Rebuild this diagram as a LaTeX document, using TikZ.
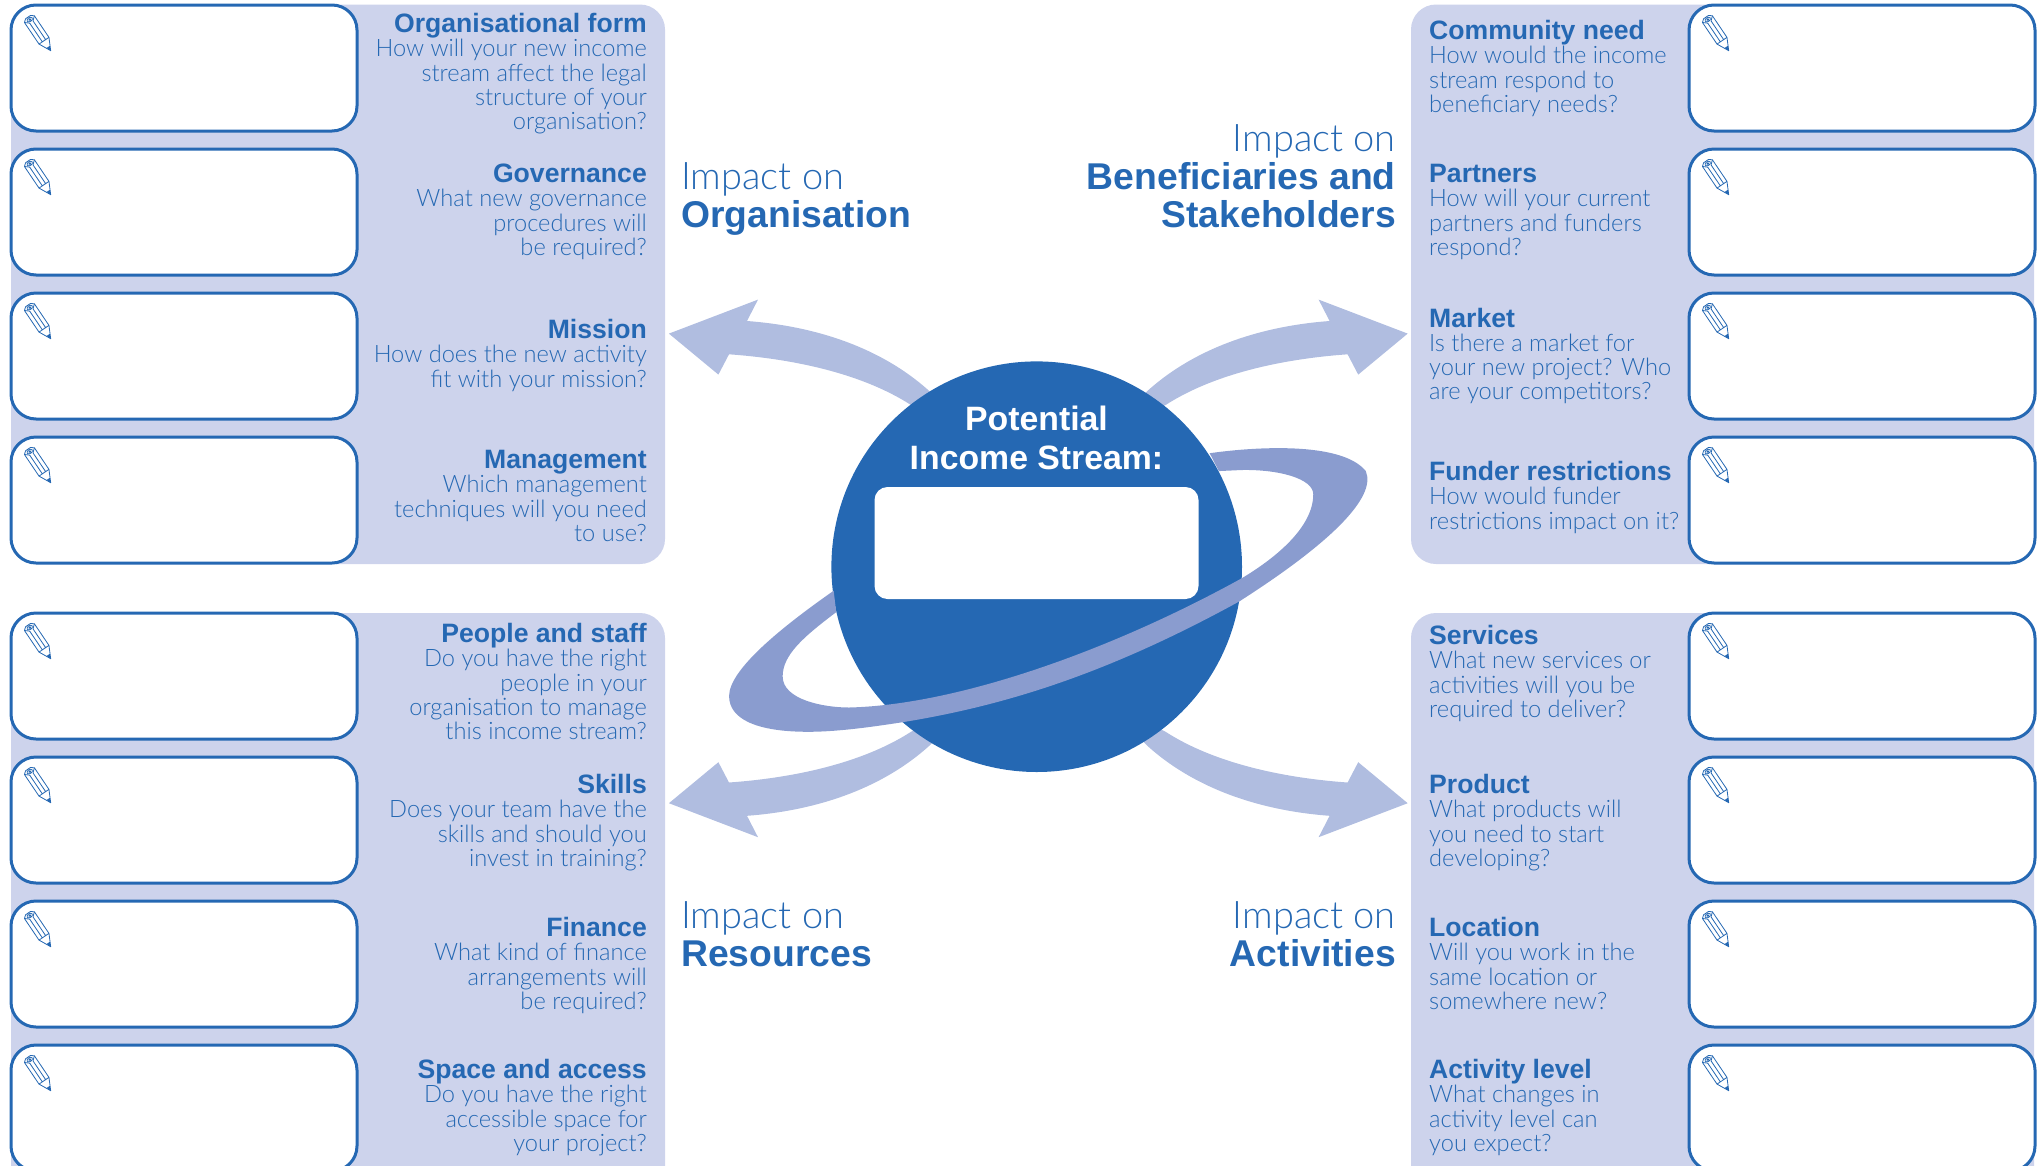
\documentclass[tikz,border=0pt]{standalone}
\usepackage{fontspec}
\setmainfont{Liberation Sans}
\newfontfamily\lightf[FakeStretch=0.985]{Lato Light}
\newfontfamily\lighti{Lato Light}
\definecolor{dk}{HTML}{2568B3}
\definecolor{pan}{HTML}{CDD3EC}
\definecolor{arr}{HTML}{B0BDE0}
\definecolor{rng}{HTML}{8A9CCF}
\newcommand{\hd}[1]{{\rmfamily\bfseries\fontsize{26.6}{24.2}\selectfont #1}\\}
\newcommand{\bd}[1]{{\rmfamily\bfseries\fontsize{37.3}{38}\selectfont #1}}
\newcommand{\sr}{\rule{0pt}{20.4pt}}
\newcommand{\sq}{\rule{0pt}{30pt}}
\tikzset{
 x=1pt,y=-1pt,
 panel/.style={fill=pan,draw=none,rounded corners=25pt},
 wbox/.style={draw=dk,line width=3pt,fill=white,rounded corners=25pt},
 qr/.style={anchor=north east,inner sep=0pt,align=right,text=dk,font=\lightf\fontsize{24}{24.2}\selectfont},
 ql/.style={anchor=north west,inner sep=0pt,align=left,text=dk,font=\lightf\fontsize{24}{24.2}\selectfont},
 impl/.style={anchor=north west,inner sep=0pt,align=left,text=dk,font=\lighti\fontsize{38}{38}\selectfont},
 impr/.style={anchor=north east,inner sep=0pt,align=right,text=dk,font=\lighti\fontsize{38}{38}\selectfont},
 pencilline/.style={draw=dk,line width=0.8pt,line join=round}
}
\newcommand{\pencil}[2]{%
 \begin{scope}[shift={(#1pt,-#2pt)},rotate=-56]
  \draw[pencilline,fill=white] (-1,-6) -- (25,-6) -- (37,0) -- (25,6) -- (-1,6) -- (-3.5,3) -- (-3.5,-3) -- cycle;
  \draw[pencilline] (-1,-6) .. controls (1,-4) and (2,-2) .. (2.5,-2) -- (25,-2) (-1,6) .. controls (1,4) and (2,2) .. (2.5,2) -- (25,2) (25,6) -- (25,-6);
  \fill[dk] (32.5,-2) -- (37,0) -- (32.5,2) -- cycle;
  \draw[pencilline] (-.5,0) ellipse (2pt and 3pt);
  \fill[dk] (-.5,0) circle (1.5pt);
 \end{scope}}
\newcommand{\wb}[3]{% name x y
 \path[wbox] (#2,#3) rectangle ++(346,126);
 \pencil{\the\numexpr#2+19\relax}{\the\numexpr#3+15\relax}%
 \coordinate (#1) at (#2,#3);}
\newcommand{\arrowshape}{%
 (-367.8,-234.8) -- (-278.7,-268.8) -- (-289.7,-247.4) .. controls (-230,-243) and (-160,-225) .. (-107,-177) -- (-60,-130) -- (-125.7,-163.4) .. controls (-178,-197) and (-250,-210) .. (-307.7,-214.1) -- (-318.3,-193.8) -- cycle}
\begin{document}
\begin{tikzpicture}
\useasboundingbox (0,0) rectangle (2042,1165);
\clip (0,0) rectangle (2042,1165);
% panels
\path[panel] (11,4.5) rectangle (665,564);
\path[panel] (11,613) rectangle (665,1200);
\path[panel] (1411,4.5) rectangle (2034,564);
\path[panel] (1411,613) rectangle (2034,1200);
% boxes
\foreach \nm/\yy in {a/5,b/149,c/293,d/437,e/613,f/757,g/901,h/1045}{
 \wb{l\nm}{11}{\yy}
 \wb{r\nm}{1689}{\yy}
}
% arrows
\begin{scope}[shift={(1036.7pt,-568.4pt)}]
 \fill[arr] \arrowshape;
 \begin{scope}[xshift=3.2pt,xscale=-1]\fill[arr] \arrowshape;\end{scope}
 \begin{scope}[yscale=-1]\fill[arr] \arrowshape;\end{scope}
 \begin{scope}[xshift=3.2pt,xscale=-1,yscale=-1]\fill[arr] \arrowshape;\end{scope}
\end{scope}
% planet
\fill[dk] (1036.7,566.7) circle (205.3);
\begin{scope}[shift={(650pt,-280pt)},x=0.5102pt,y=-0.35714pt]
 \fill[rng] (1097,485) .. controls (1180,468) and (1355,450) .. (1403,535)
  .. controls (1425,610) and (1330,740) .. (1155,900)
  .. controls (900,1100) and (700,1190) .. (500,1237)
  .. controls (420,1255) and (360,1265) .. (310,1265)
  .. controls (210,1265) and (155,1230) .. (155,1165)
  .. controls (155,1090) and (260,970) .. (360,870)
  -- (365,930)
  .. controls (300,1000) and (260,1050) .. (260,1110)
  .. controls (260,1175) and (340,1197) .. (390,1197)
  .. controls (600,1190) and (900,1040) .. (1160,835)
  .. controls (1230,775) and (1300,690) .. (1300,600)
  .. controls (1300,555) and (1230,530) .. (1160,532)
  -- (1115,535) -- cycle;
\end{scope}
\node[draw=none,fill=white,rounded corners=13pt,minimum width=324pt,minimum height=112pt,inner sep=0pt] (stream) at (1036.5,543) {};
\node[inner sep=0pt,align=center,text=white,font=\rmfamily\bfseries\fontsize{33.8}{38.5}\selectfont,anchor=base] (title) at (1036.5,469) {Potential\\Income Stream:};
% left questions
\node[qr] (q1) at (647,12) {\sr\hd{Organisational form}How will your new income\\stream affect the legal\\structure of your\\organisation?};
\node[qr] (q2) at (647,162) {\sr\hd{Governance}What new governance\\procedures will\\be required?};
\node[qr] (q3) at (647,318) {\sr\hd{Mission}How does the new activity\\fit with your mission?};
\node[qr] (q4) at (647,448) {\sr\hd{Management}Which management\\techniques will you need\\to use?};
\node[qr] (q5) at (647,622) {\sr\hd{People and staff}Do you have the right\\people in your\\organisation to manage\\this income stream?};
\node[qr] (q6) at (647,773) {\sr\hd{Skills}Does your team have the\\skills and should you\\invest in training?};
\node[qr] (q7) at (647,916) {\sr\hd{Finance}What kind of finance\\arrangements will\\be required?};
\node[qr] (q8) at (647,1058) {\sr\hd{Space and access}Do you have the right\\accessible space for\\your project?};
% right questions
\node[ql] (r1) at (1429,19) {\sr\hd{Community need}How would the income\\stream respond to\\beneficiary needs?};
\node[ql] (r2) at (1429,162) {\sr\hd{Partners}How will your current\\partners and funders\\respond?};
\node[ql] (r3) at (1429,306.5) {\sr\hd{Market}Is there a market for\\your new project? Who\\are your competitors?};
\node[ql] (r4) at (1429,460) {\sr\hd{Funder restrictions}How would funder\\restrictions impact on it?};
\node[ql] (r5) at (1429,624) {\sr\hd{Services}What new services or\\activities will you be\\required to deliver?};
\node[ql] (r6) at (1429,773) {\sr\hd{Product}What products will\\you need to start\\developing?};
\node[ql] (r7) at (1429,916) {\sr\hd{Location}Will you work in the\\same location or\\somewhere new?};
\node[ql] (r8) at (1429,1058) {\sr\hd{Activity level}What changes in\\activity level can\\you expect?};
% impacts
\node[impl] (i1) at (681,159) {\sq Impact on\\\bd{Organisation}};
\node[impr] (i2) at (1396,121) {\sq Impact on\\\bd{Beneficiaries and}\\\bd{Stakeholders}};
\node[impl] (i3) at (681,898) {\sq Impact on\\\bd{Resources}};
\node[impr] (i4) at (1396,898) {\sq Impact on\\\bd{Activities}};
\end{tikzpicture}
\end{document}
